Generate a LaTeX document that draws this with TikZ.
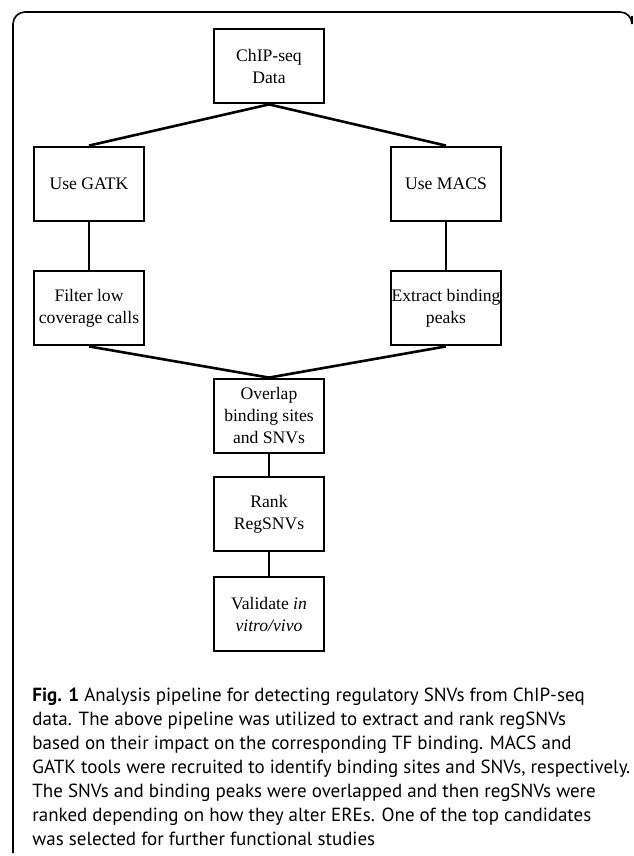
\documentclass[tikz,border=0pt]{standalone}
\usepackage{fontspec}
\setmainfont{Liberation Serif}
\newfontfamily\capfont{PT Sans}
\usetikzlibrary{positioning}

\tikzset{
    stage/.style={draw, line width=1.4pt, minimum width=55pt, minimum height=37pt,
        inner xsep=0pt, inner ysep=1pt, align=center, font=\fontsize{8.8}{11}\selectfont},
    link/.style={line width=1.3pt}
}

\begin{document}
\begin{tikzpicture}[x=0.5pt, y=-0.5pt]
                        \useasboundingbox (0, 0) rectangle (633, 856);
                        \draw[line width=0.8pt, rounded corners=6pt] (13, 853) -- (13, 12) -- (632, 12) -- (632, 16);

                        \node[stage] (chip) at (269, 66) {ChIP-seq\\Data};
                        \node[stage] (gatk) at (89, 184) {Use GATK};
                        \node[stage] (macs) at (446, 184) {Use MACS};
                        \node[stage] (filter) at (89, 308) {Filter low\\coverage calls};
                        \node[stage] (extract) at (446, 308) {Extract binding\\peaks};
                        \node[stage] (overlap) at (269, 416) {Overlap\\binding sites\\and SNVs};
                        \node[stage] (rank) at (269, 514) {Rank\\RegSNVs};
                        \node[stage] (validate) at (269, 614) {Validate \textit{in}\\\textit{vitro/vivo}};

                        \draw[link] (chip.south) -- (gatk.north);
                        \draw[link] (chip.south) -- (macs.north);
                        \draw[link] (gatk) -- (filter);
                        \draw[link] (macs) -- (extract);
                        \draw[link] (filter.south) -- (overlap.north);
                        \draw[link] (extract.south) -- (overlap.north);
                        \draw[link] (overlap) -- (rank);
                        \draw[link] (rank) -- (validate);

                        \node[anchor=north west, align=left, inner sep=0pt, font=\capfont\fontsize{9.5}{12}\selectfont] (caption) at (32, 688)
                            {\textbf{Fig. 1} Analysis pipeline for detecting regulatory SNVs from ChIP-seq\\
                             data. The above pipeline was utilized to extract and rank regSNVs\\
                             based on their impact on the corresponding TF binding. MACS and\\
                             GATK tools were recruited to identify binding sites and SNVs, respectively.\\
                             The SNVs and binding peaks were overlapped and then regSNVs were\\
                             ranked depending on how they alter EREs. One of the top candidates\\
                             was selected for further functional studies};
                    \end{tikzpicture}
\end{document}
